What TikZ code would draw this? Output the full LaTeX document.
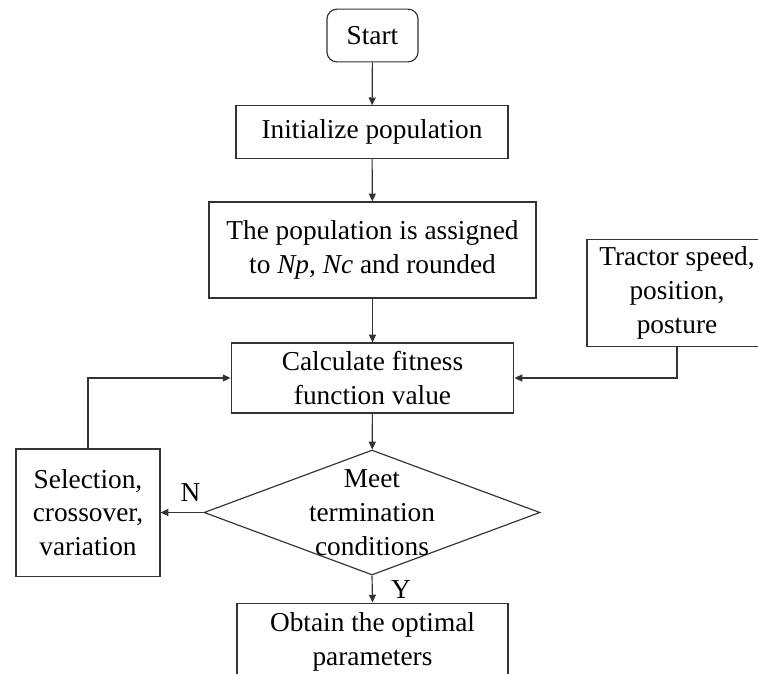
\documentclass[tikz,border=0pt]{standalone}
\usepackage{fontspec}
\setmainfont{Liberation Serif}
\usetikzlibrary{arrows.meta,positioning,shapes.geometric}

\begin{document}
\begin{tikzpicture}[x=0.018cm, y=-0.018cm, every node/.style={font=\rmfamily\fontsize{14}{17.3}\selectfont}]
\tikzset{proc/.style={draw=black!80, line width=0.6pt, align=center, inner sep=0pt}}
\tikzset{term/.style={proc, rounded corners=0.18cm}}
\tikzset{dec/.style={draw=black!80, line width=0.6pt, diamond, inner sep=0pt, minimum width=6.05cm, minimum height=2.25cm}}
\tikzset{flow/.style={line width=0.6pt, draw=black!80, -{Triangle[length=4pt,width=3.6pt]}}}
\useasboundingbox (0,0) rectangle (758,673);
\clip (0,0) rectangle (758,673);
\node[term, minimum width=1.64cm, minimum height=0.95cm] (start) at (372.5,35.5) {Start};
\node[proc, minimum width=4.9cm, minimum height=0.94cm] (init) at (372,132) {Initialize population};
\node[proc, minimum width=5.89cm, minimum height=1.73cm] (assign) at (372.5,250) {The population is assigned\\to \textit{Np}, \textit{Nc} and rounded};
\node[proc, minimum width=3.24cm, minimum height=1.94cm] (tractor) at (677,293) {Tractor speed,\\position,\\posture};
\node[proc, minimum width=5.09cm, minimum height=1.26cm] (calc) at (372.5,378) {Calculate fitness\\function value};
\node[dec] (meet) at (372,512.5) {};
\node[align=center] (meettext) at (meet.center) {Meet\\termination\\conditions};
\node[proc, minimum width=2.59cm, minimum height=2.29cm] (select) at (88,512.5) {Selection,\\crossover,\\variation};
\node[proc, minimum width=4.88cm, minimum height=1.4cm] (obtain) at (372.5,642) {Obtain the optimal\\parameters};
\draw[flow] (start) -- (init);
\draw[flow] (init) -- (assign);
\draw[flow] (assign) -- (calc);
\draw[flow] (tractor.south) |- (calc.east);
\draw[flow] (calc) -- (meet);
\draw[flow] (meet.west) -- node[above, pos=0.3, yshift=2pt]{N} (select.east);
\draw[flow] (select.north) |- (calc.west);
\draw[flow] (meet.south) -- node[right, xshift=6pt]{Y} (obtain.north);
\end{tikzpicture}
\end{document}
